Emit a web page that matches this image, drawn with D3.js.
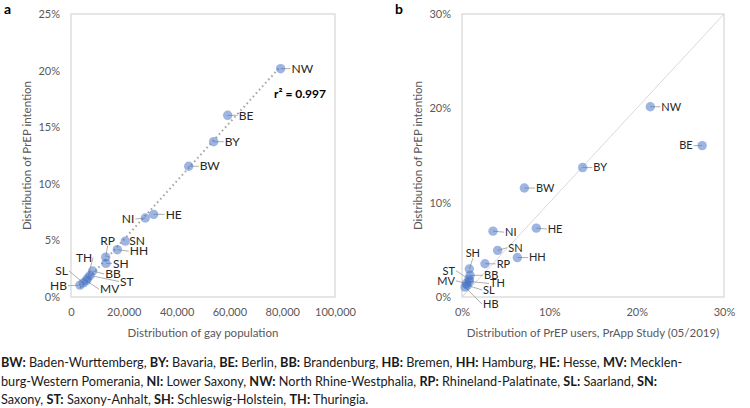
<!DOCTYPE html>
<html><head><meta charset="utf-8">
<script src="https://cdn.jsdelivr.net/npm/d3@7"></script>
<style>
body{margin:0;background:#fff;}
text{font-family:Lato,"Open Sans",sans-serif;}
</style></head>
<body><svg id="c" width="750" height="408"></svg>
<script>
// ---- data ----
const states = ["NW","BE","BY","BW","HE","NI","SN","HH","RP","SH","BB","ST","TH","MV","SL","HB"];
const intention = [20.17,16.05,13.72,11.55,7.30,6.98,4.94,4.18,3.52,2.97,2.30,1.90,1.65,1.45,1.25,1.05]; // % PrEP intention
const gayPop = [79400,59350,54050,44580,31300,28150,20570,17540,13140,13260,8200,7200,6300,5800,4700,3400];
const prappUsers = [21.56,27.5,13.82,7.14,8.51,3.55,4.08,6.34,2.63,0.84,0.92,0.80,0.85,0.50,0.60,0.35]; // % PrApp study
const xTicksA = [0,20000,40000,60000,80000,100000];
const yTicksA = [0,5,10,15,20,25];
const ticksB = [0,10,20,30];
const r2Label = "r² = 0.997";
const captionLines = [
 [["BW:",1],[" Baden-Wurttemberg, ",0],["BY:",1],[" Bavaria, ",0],["BE:",1],[" Berlin, ",0],["BB:",1],[" Brandenburg, ",0],["HB:",1],[" Bremen, ",0],["HH:",1],[" Hamburg, ",0],["HE:",1],[" Hesse, ",0],["MV:",1],[" Mecklen-",0]],
 [["burg-Western Pomerania, ",0],["NI:",1],[" Lower Saxony, ",0],["NW:",1],[" North Rhine-Westphalia, ",0],["RP:",1],[" Rhineland-Palatinate, ",0],["SL:",1],[" Saarland, ",0],["SN:",1]],
 [["Saxony, ",0],["ST:",1],[" Saxony-Anhalt, ",0],["SH:",1],[" Schleswig-Holstein, ",0],["TH:",1],[" Thuringia.",0]]
];

// ---- layout (label offsets in px relative to point: dx, dy, anchor) ----
const labA = {NW:[11,0,"start"],BE:[11,0,"start"],BY:[11,0,"start"],BW:[11,0,"start"],HE:[12,0,"start"],
  NI:[-11,1,"end"],SN:[4,0,"start"],HH:[12.5,1.5,"start"],RP:[2,-16.5,"middle"],SH:[7,0,"start"],
  TH:[4.5,-21,"end"],SL:[-15.5,-12,"end"],BB:[12.5,3,"start"],ST:[30,6,"start"],HB:[-13,0.6,"end"],MV:[13.7,8.7,"start"]};
const labB = {NW:[11,0,"start"],BE:[-9.5,0,"end"],BY:[10.6,0,"start"],BW:[11.6,0,"start"],HE:[11.4,1,"start"],
  NI:[12,1,"start"],SN:[10.7,-2.7,"start"],HH:[11.6,0,"start"],RP:[11.7,0,"start"],SH:[3.5,-15.7,"middle"],
  ST:[-14,-8.4,"end"],BB:[14,0,"start"],MV:[-11.4,-2.5,"end"],TH:[20.6,2,"start"],SL:[15.8,4.8,"start"],HB:[18,17,"start"]};

const svg = d3.select("#c");
const tickCol = "#595959", borderCol = "#d9d9d9";

function panel(cfg){
  const g = svg.append("g");
  const x = d3.scaleLinear().domain(cfg.xd).range([cfg.x0,cfg.x1]);
  const y = d3.scaleLinear().domain(cfg.yd).range([cfg.y1,cfg.y0]);
  g.append("rect").attr("x",cfg.x0).attr("y",cfg.y0).attr("width",cfg.x1-cfg.x0).attr("height",cfg.y1-cfg.y0)
    .attr("fill","none").attr("stroke",borderCol).attr("stroke-width",1.3);
  const xa = d3.axisBottom(x).tickValues(cfg.xt).tickSize(0).tickPadding(11).tickFormat(cfg.xf);
  const ya = d3.axisLeft(y).tickValues(cfg.yt).tickSize(0).tickPadding(11).tickFormat(cfg.yf);
  const gx = g.append("g").attr("transform",`translate(0,${cfg.y1})`).call(xa);
  const gy = g.append("g").attr("transform",`translate(${cfg.x0},0)`).call(ya);
  [gx,gy].forEach(a=>{a.select(".domain").remove();a.selectAll("text").attr("fill",tickCol).style("font-size","11px").style("font-family","Lato");});
  g.append("text").attr("x",(cfg.x0+cfg.x1)/2).attr("y",337).attr("text-anchor","middle").attr("fill",tickCol)
    .style("font-size","11.5px").text(cfg.xt_title);
  g.append("text").attr("transform",`translate(${cfg.ytx},${(cfg.y0+cfg.y1)/2}) rotate(-90)`).attr("text-anchor","middle")
    .attr("dy","0.35em").attr("fill",tickCol).style("font-size","11.5px").text("Distribution of PrEP intention");
  g.append("text").attr("x",cfg.letterX).attr("y",14).style("font-size","14px").style("font-weight","bold").attr("fill","#000").text(cfg.letter);
  return {g,x,y};
}

function points(p, xs, labs, fs){
  const data = states.map((s,i)=>({s, xv:xs[i], yv:intention[i]}));
  data.forEach(d=>{
    const px=p.x(d.xv), py=p.y(d.yv), o=labs[d.s];
    const lx=px+o[0], ly=py+o[1];
    let ex, ey;
    if(o[2]==="start"){ex=lx-1;ey=ly;}
    else if(o[2]==="end"){ex=lx+1;ey=ly;}
    else {ex=lx;ey=ly+5;}
    if(Math.hypot(ex-px,ey-py)>5)
      p.g.append("line").attr("x1",px).attr("y1",py).attr("x2",ex).attr("y2",ey).attr("stroke","#a6a6a6").attr("stroke-width",0.9);
  });
  p.g.selectAll("circle.pt").data(data).join("circle").attr("class","pt")
    .attr("cx",d=>p.x(d.xv)).attr("cy",d=>p.y(d.yv)).attr("r",4.7)
    .attr("fill","#4472c4").attr("fill-opacity",0.52);
  p.g.selectAll("text.lab").data(data).join("text").attr("class","lab")
    .attr("x",d=>p.x(d.xv)+labs[d.s][0]).attr("y",d=>p.y(d.yv)+labs[d.s][1])
    .attr("dy","0.35em").attr("text-anchor",d=>labs[d.s][2])
    .attr("fill","#262626").style("font-size",fs).text(d=>d.s);
}

// Panel a
const pa = panel({x0:71,x1:335,y0:14,y1:297,xd:[0,100000],yd:[0,25],xt:xTicksA,yt:yTicksA,
  xf:d3.format(","),yf:d=>d+"%",xt_title:"Distribution of gay population",ytx:27,letter:"a",letterX:4});
{
  const mx=d3.mean(gayPop), my=d3.mean(intention);
  let sxy=0,sxx=0; gayPop.forEach((v,i)=>{sxy+=(v-mx)*(intention[i]-my); sxx+=(v-mx)*(v-mx);});
  const b=sxy/sxx, a=my-b*mx; const ex=d3.extent(gayPop);
  pa.g.append("line").attr("x1",pa.x(ex[0])).attr("y1",pa.y(a+b*ex[0])).attr("x2",pa.x(ex[1])).attr("y2",pa.y(a+b*ex[1]))
    .attr("stroke","#a6a6a6").attr("stroke-width",2).attr("stroke-dasharray","1.6,3");
}
points(pa, gayPop, labA, "12px");
pa.g.append("text").attr("x",300).attr("y",94).attr("dy","0.35em").attr("text-anchor","middle")
  .style("font-size","12px").style("font-weight","bold").attr("fill","#000").text(r2Label);

// Panel b
const pb = panel({x0:462,x1:724,y0:14,y1:297,xd:[0,30],yd:[0,30],xt:ticksB,yt:ticksB,
  xf:d=>d+"%",yf:d=>d+"%",xt_title:"Distribution of PrEP users, PrApp Study (05/2019)",ytx:418,letter:"b",letterX:395});
pb.g.append("line").attr("x1",pb.x(0)).attr("y1",pb.y(0)).attr("x2",pb.x(30)).attr("y2",pb.y(30))
  .attr("stroke","#d9d9d9").attr("stroke-width",1);
points(pb, prappUsers, labB, "11px");

// caption
const cap = svg.append("g");
captionLines.forEach((line,i)=>{
  const t = cap.append("text").attr("x",1).attr("y",367+i*18.5).style("font-size","12.7px").attr("fill","#1a1a1a");
  line.forEach(seg=>t.append("tspan").style("font-weight",seg[1]?"bold":"normal").text(seg[0]));
});
</script></body></html>
